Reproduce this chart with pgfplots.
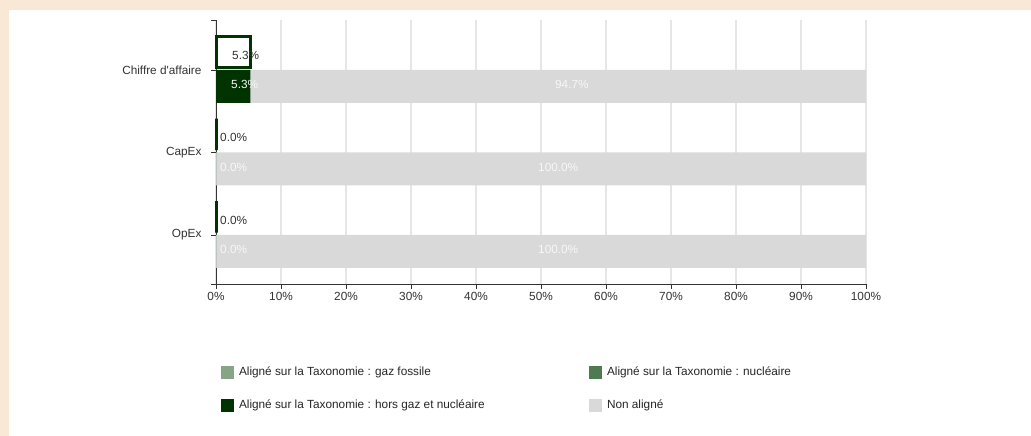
\documentclass[border=0pt]{standalone}
\usepackage{pgfplots}
\pgfplotsset{compat=1.18}
\usepackage{fontspec}
\setmainfont{Liberation Sans}
\newfontfamily\plainsans{Liberation Sans}
\definecolor{beige}{HTML}{FAE8D6}
\definecolor{dkg}{HTML}{003300}
\definecolor{gazf}{HTML}{88A487}
\definecolor{nucl}{HTML}{4D7A50}
\definecolor{nongrey}{HTML}{D9D9D9}
\definecolor{gridc}{HTML}{E6E6E6}
\definecolor{axisc}{HTML}{333333}
\definecolor{textc}{HTML}{333333}
\definecolor{wlab}{HTML}{F7F7F7}

% lower bars: end of each visible segment (y = category - 0.2)
\pgfplotstableread{
x y
100 1.8
100 0.8
100 -0.2
}\nonaligne
\pgfplotstableread{
x y
5.3 1.8
0 0.8
0 -0.2
}\horsgaz
% upper outlined bars (total aligned)
\pgfplotstableread{
x y
5.3 2.22
0 1.22
0 0.22
}\aligned
% labels: x = label start, y = label centre, v = value
\pgfplotstableread{
x y v
2.46 2.18 5.3
0.62 1.18 0
0.62 0.18 0
}\uplabels
\pgfplotstableread{
x y v
2.31 1.82 5.3
52.15 1.82 94.7
0.62 0.82 0
49.54 0.82 100
0.62 -0.18 0
49.54 -0.18 100
}\lowlabels

\begin{document}
\begin{tikzpicture}[font=\fontsize{11.8bp}{14bp}\selectfont]
\fill[beige] (0,0) rectangle (1031bp,436bp);
\fill[white] (9bp,0) rectangle (1031bp,426bp);
\begin{axis}[
  at={(216bp,152bp)}, anchor=south west,
  scale only axis, width=650bp, height=264bp,
  xmin=0, xmax=100, ymin=-0.594, ymax=2.606,
  clip=false,
  axis x line*=bottom, axis y line*=left,
  axis line style={draw=axisc, line width=0.8bp},
  xtick={0,10,20,30,40,50,60,70,80,90,100},
  xticklabels={0\%,10\%,20\%,30\%,40\%,50\%,60\%,70\%,80\%,90\%,100\%},
  ytick={0,1,2},
  yticklabels={OpEx,CapEx,Chiffre d{\plainsans'}affaire},
  extra y ticks={-0.594,2.606}, extra y tick labels={},
  tick align=outside, major tick length=5bp,
  tick style={draw=axisc, line width=0.8bp},
  xmajorgrids, major x grid style={draw=gridc, line width=1.6bp},
  ticklabel style={text=textc},
  yticklabel style={xshift=-6bp},
  /pgf/number format/assume math mode=true,
  legend columns=2,
  legend cell align=left,
  legend image code/.code={\fill[#1, draw=none] (0bp,-6.5bp) rectangle (13bp,6.5bp);},
  legend style={at={(0.0077,-0.31)}, anchor=north west, draw=none, fill=none,
    inner sep=0pt, outer sep=0pt, column sep=5bp, row sep=20bp,
    nodes={inner sep=0pt, text=black!85}},
]
\addplot[xbar, bar width=0.4, bar shift=0pt, fill=nongrey, draw=none, forget plot] table {\nonaligne};
\addplot[xbar, bar width=0.4, bar shift=0pt, fill=dkg, draw=none, forget plot] table {\horsgaz};
\addplot[xbar, bar width=0.38, bar shift=0pt, fill=white, draw=dkg, line width=3bp, forget plot] table {\aligned};
\addplot[forget plot, sharp plot, draw=none, mark=none, point meta=explicit,
  nodes near coords={\pgfmathprintnumber[fixed,precision=1,fixed zerofill]{\pgfplotspointmeta}\%},
  every node near coord/.append style={anchor=west, inner sep=0pt, text=textc}]
  table[x=x, y=y, meta=v] {\uplabels};
\addplot[forget plot, sharp plot, draw=none, mark=none, point meta=explicit,
  nodes near coords={\pgfmathprintnumber[fixed,precision=1,fixed zerofill]{\pgfplotspointmeta}\%},
  every node near coord/.append style={anchor=west, inner sep=0pt, text=wlab}]
  table[x=x, y=y, meta=v] {\lowlabels};
\addlegendimage{fill=gazf}
\addlegendentry{\makebox[345bp][l]{Aligné sur la Taxonomie : gaz fossile}}
\addlegendimage{fill=nucl}
\addlegendentry{Aligné sur la Taxonomie : nucléaire}
\addlegendimage{fill=dkg}
\addlegendentry{\makebox[345bp][l]{Aligné sur la Taxonomie : hors gaz et nucléaire}}
\addlegendimage{fill=nongrey}
\addlegendentry{Non aligné}
\end{axis}
\pgfresetboundingbox
\path (0,0) rectangle (1031bp,436bp);
\end{tikzpicture}
\end{document}
